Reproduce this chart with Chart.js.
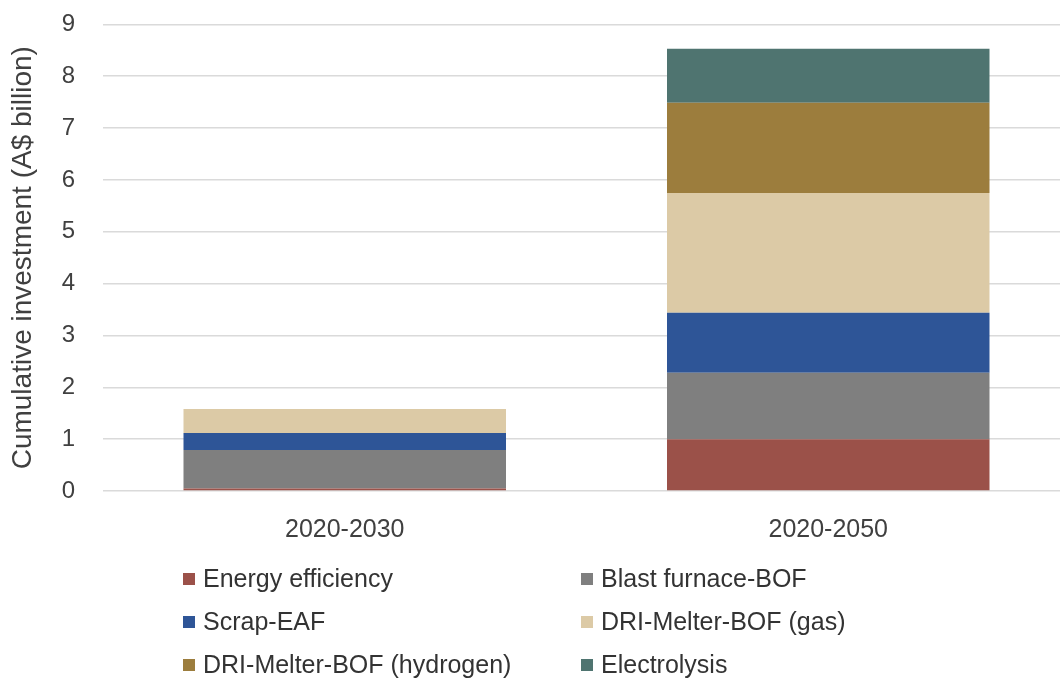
<!DOCTYPE html>
<html lang="en">
<head>
<meta charset="UTF-8" />
<title>Cumulative investment</title>
<script src="https://cdn.jsdelivr.net/npm/chart.js@4.4.0/dist/chart.umd.min.js"></script>
<style>
	body { margin:0; background:#ffffff; overflow:hidden; font-family:"Liberation Sans", Arial, sans-serif; }
	#wrap { position:relative; width:1060px; height:684px; overflow:hidden; }
	#chart { position:absolute; left:0; top:-18px; }
	#legend { position:absolute; left:183px; top:560px; display:grid; grid-template-columns:398px 300px; row-gap:6px; }
	.item { display:flex; align-items:center; height:37px; font-size:25px; color:#333333; white-space:nowrap; }
	.box { width:12px; height:12px; margin-right:8px; }
</style>
</head>
<body>
<div id="wrap">
	<canvas id="chart" width="1070" height="582"></canvas>
	<div id="legend"></div>
</div>
<script>
// categories and series (A$ billion)
const periods = ['2020-2030', '2020-2050'];
const seriesNames = ['Energy efficiency', 'Blast furnace-BOF', 'Scrap-EAF',
	'DRI-Melter-BOF (gas)', 'DRI-Melter-BOF (hydrogen)', 'Electrolysis'];
const energyEff = [0.05, 1.0];
const blastFurnace = [0.74, 1.28];
const scrapEaf = [0.33, 1.16];
const driGas = [0.46, 2.31];
const driHydrogen = [0, 1.74];
const electrolysis = [0, 1.04];
const yTicks = [0, 1, 2, 3, 4, 5, 6, 7, 8, 9];

const colors = ['#9b5149', '#7f7f7f', '#2e5597', '#dccaa6', '#9c7d3d', '#4f7470'];
const values = [energyEff, blastFurnace, scrapEaf, driGas, driHydrogen, electrolysis];

let datasets = seriesNames.map((name, i) => ({
	label: name,
	data: values[i],
	backgroundColor: colors[i],
	borderWidth: 0,
	barPercentage: 0.667,
	categoryPercentage: 1.0
}));

let ctx = document.getElementById('chart');
let chart = new Chart(ctx, {
	type: 'bar',
	data: { labels: periods, datasets: datasets },
	options: {
		responsive: false,
		animation: false,
		layout: { padding: { left: 0, right: 0, top: 10, bottom: 3 } },
		plugins: { legend: { display: false }, tooltip: { enabled: false } },
		scales: {
			x: {
				stacked: true,
				grid: { display: false },
				border: { display: false },
				ticks: { color: '#404040', padding: 16, font: { family: 'Liberation Sans', size: 25 } }
			},
			y: {
				stacked: true,
				min: 0, max: 9,
				afterBuildTicks: (s) => { s.ticks = yTicks.map(v => ({ value: v })); },
				afterFit: (s) => { s.width = 103; },
				grid: { color: '#dadada', lineWidth: 1.5, drawTicks: false },
				border: { display: false },
				ticks: { color: '#404040', padding: 28, font: { family: 'Liberation Sans', size: 24 } },
				title: {
					display: true,
					text: 'Cumulative investment (A$ billion)',
					color: '#404040',
					padding: { top: 6, bottom: 0 },
					font: { family: 'Liberation Sans', size: 28 }
				}
			}
		}
	}
});

// legend in two columns
let legend = document.getElementById('legend');
seriesNames.forEach((name, i) => {
	let item = document.createElement('div');
	item.className = 'item';
	item.innerHTML = '<span class="box" style="background:' + colors[i] + '"></span>' + name;
	legend.appendChild(item);
});
</script>
</body>
</html>
